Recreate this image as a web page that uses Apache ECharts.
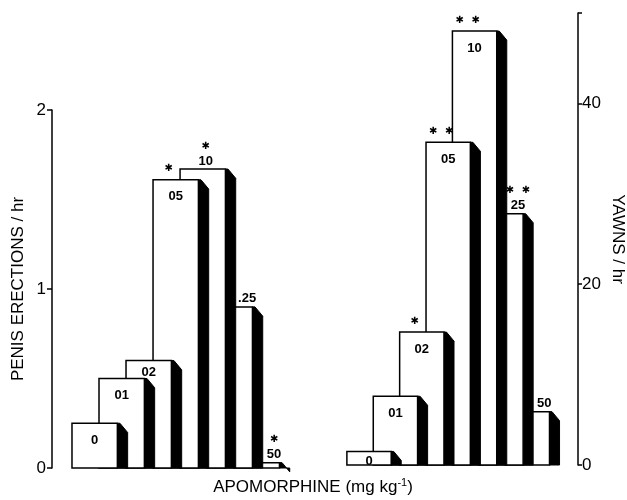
<!DOCTYPE html>
<html>
<head>
<meta charset="utf-8">
<script src="https://cdn.jsdelivr.net/npm/echarts@6/dist/echarts.min.js"></script>
<style>
  html, body { margin: 0; background: #fff; }
  #chart { width: 627px; height: 500px; }
</style>
</head>
<body>
<div id="chart"></div>
<script>
// apomorphine doses (mg/kg), shown on the bars without the leading point
var doses = ['0', '01', '02', '05', '10', '25', '50'];
var erectionLabels = ['0', '01', '02', '05', '10', '.25', '50'];
var erections = [0.25, 0.5, 0.6, 1.61, 1.67, 0.9, 0.03];
var erectionStars = ['', '', '', '*', '*', '', '*'];
var yawns = [1.5, 7.6, 14.7, 35.7, 48, 27.8, 5.9];
var yawnStars = ['', '', '*', '**', '**', '**', ''];
var yawnTicks = [0, 20, 40, 50];
var yawnTickLabels = [0, 20, 40];

var FONT = '"Liberation Sans", Arial, sans-serif';
var FRONT = 1.68;   // white face, in bar steps
var SHADOW = 0.38;  // black side

function barRenderer (values, labels, stars) {
    return function (params, api) {
        var i = api.value(0);
        var v = api.value(1);
        var unit = api.size([1, 0])[0];
        var b = api.coord([i, 0]);
        var t = api.coord([i, v]);
        var x0 = b[0], x1 = x0 + unit * FRONT, sw = unit * SHADOW;
        var base = b[1], top = t[1];
        // earlier bars stand in front of later ones
        var z = (10 - i) * 10;
        var children = [{
            type: 'polygon',
            z2: z,
            shape: { points: [[x1, top], [x1 + sw * 0.25, top], [x1 + sw, top + sw * 0.9], [x1 + sw, base], [x1, base]] },
            style: { fill: '#000', stroke: '#000', lineWidth: 1 }
        }, {
            type: 'rect',
            z2: z + 1,
            shape: { x: x0, y: top, width: x1 - x0, height: base - top },
            style: { fill: '#fff', stroke: '#000', lineWidth: 1.5 }
        }];

        var prevTop = i > 0 ? api.coord([i - 1, values[i - 1]])[1] : base;
        var avail = prevTop - top;
        var inside = i === 0 || avail >= 15;
        var lx, ly;
        if (inside) {
            lx = (x0 + x1) / 2;
            ly = top + Math.min(17, avail / 2 + 3);
        } else {
            var visL = prevTop <= top ? api.coord([i - 1, 0])[0] + unit * (FRONT + SHADOW) : x0;
            lx = (visL + x1) / 2 + 3;
            ly = top - 8;
        }
        children.push({
            type: 'text',
            z2: z + 2,
            style: { text: labels[i], x: lx, y: ly, align: 'center', verticalAlign: 'middle', font: 'bold 13px ' + FONT, fill: '#000' }
        });

        var s = stars[i];
        if (s) {
            var sx = inside ? (x0 + x1) / 2 - 7 : lx;
            var sy = inside ? top - 11 : ly - 15;
            var offs = s.length === 2 ? [-8, 8] : [0];
            offs.forEach(function (o) {
                children.push({
                    type: 'text',
                    z2: z + 2,
                    style: { text: '\u2731', x: sx + o, y: sy, align: 'center', verticalAlign: 'middle', font: 'bold 10px "DejaVu Sans"', fill: '#000' }
                });
            });
        }
        return { type: 'group', children: children };
    };
}

var chart = echarts.init(document.getElementById('chart'));

var axisText = { color: '#000', fontSize: 17, fontFamily: FONT };

chart.setOption({
    backgroundColor: '#fff',
    animation: false,
    grid: [
        { left: 52, top: 110, width: 248, bottom: 32 },
        { left: 330, top: 13, right: 46, bottom: 35 }
    ],
    xAxis: [
        { gridIndex: 0, type: 'value', min: -0.74, max: 8.44, show: false },
        { gridIndex: 1, type: 'value', min: -0.64, max: 8.76, show: false }
    ],
    yAxis: [{
        gridIndex: 0,
        type: 'value',
        min: 0,
        max: 2,
        interval: 1,
        name: 'PENIS ERECTIONS / hr',
        nameLocation: 'middle',
        nameRotate: 90,
        nameGap: 25,
        nameTextStyle: axisText,
        axisLine: { show: true, onZero: false, lineStyle: { color: '#000', width: 1.5 } },
        axisTick: { show: true, length: 5, lineStyle: { color: '#000', width: 1.5 } },
        axisLabel: Object.assign({ margin: 6 }, axisText),
        splitLine: { show: false }
    }, {
        gridIndex: 1,
        type: 'value',
        position: 'right',
        min: 0,
        max: 50,
        name: 'YAWNS / hr',
        nameLocation: 'middle',
        nameRotate: -90,
        nameGap: 31,
        nameTextStyle: axisText,
        axisLine: { show: true, onZero: false, lineStyle: { color: '#000', width: 1.5 } },
        axisTick: { show: true, length: 4, customValues: yawnTicks, lineStyle: { color: '#000', width: 1.5 } },
        axisLabel: Object.assign({ margin: 4, customValues: yawnTickLabels }, axisText),
        splitLine: { show: false }
    }],
    graphic: [{
        type: 'text',
        x: 313,
        y: 487,
        style: {
            text: '{a|APOMORPHINE (mg kg}{s|-1}{a|)}',
            align: 'center',
            verticalAlign: 'middle',
            rich: {
                a: { fontSize: 17, fontFamily: FONT, fill: '#000' },
                s: { fontSize: 11, fontFamily: FONT, fill: '#000', padding: [0, 0, 9, 0] }
            }
        }
    }],
    series: [{
        type: 'custom',
        xAxisIndex: 0,
        yAxisIndex: 0,
        renderItem: barRenderer(erections, erectionLabels, erectionStars),
        data: erections.map(function (v, i) { return [i, v, doses[i]]; })
    }, {
        type: 'custom',
        xAxisIndex: 1,
        yAxisIndex: 1,
        renderItem: barRenderer(yawns, doses, yawnStars),
        data: yawns.map(function (v, i) { return [i, v, doses[i]]; })
    }]
});
</script>
</body>
</html>
